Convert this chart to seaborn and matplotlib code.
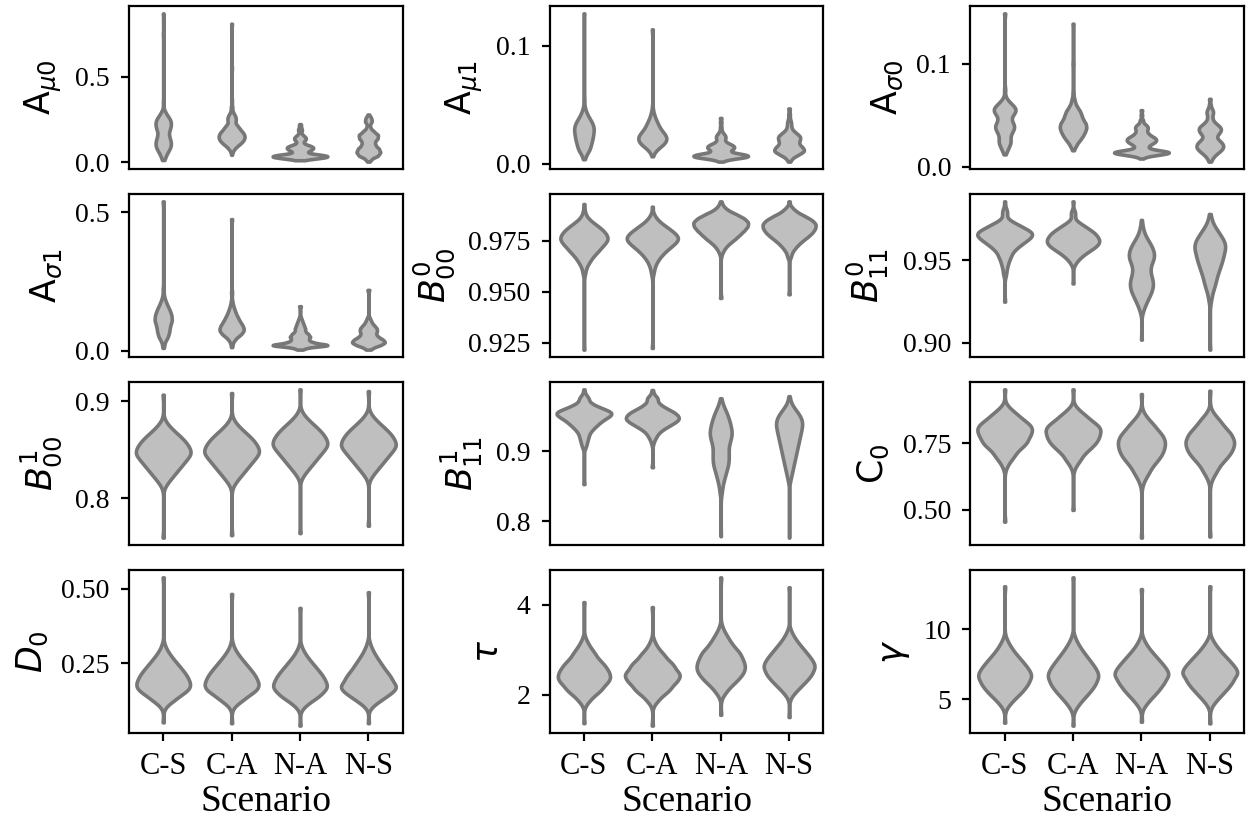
import matplotlib
matplotlib.use("Agg")
import matplotlib.pyplot as plt
import numpy as np
import pandas as pd
import seaborn as sns

scenarios = ["C-S", "C-A", "N-A", "N-S"]

# Posterior draws for each parameter and scenario, summarised as (value, number of draws)

# A_mu0
a_mu0_cs = [(0.014, 1), (0.02, 2), (0.04, 5), (0.06, 8), (0.08, 12), (0.10, 14), (0.12, 14), (0.14, 12),
            (0.16, 10), (0.18, 10), (0.20, 13), (0.22, 14), (0.24, 14), (0.26, 11), (0.28, 6), (0.30, 3),
            (0.35, 1), (0.75, 1), (0.87, 1)]
a_mu0_ca = [(0.045, 1), (0.07, 3), (0.09, 8), (0.11, 16), (0.13, 22), (0.15, 24), (0.17, 22), (0.19, 16),
            (0.21, 12), (0.23, 6), (0.25, 8), (0.27, 7), (0.29, 3), (0.32, 2), (0.36, 1), (0.55, 1),
            (0.81, 1)]
a_mu0_na = [(0.013, 1), (0.015, 3), (0.025, 20), (0.035, 32), (0.045, 22), (0.055, 6), (0.065, 8), (0.075, 12),
            (0.085, 14), (0.095, 12), (0.105, 6), (0.115, 3), (0.125, 4), (0.135, 6), (0.145, 6), (0.155, 4),
            (0.165, 2), (0.175, 1), (0.185, 2), (0.195, 2), (0.205, 1), (0.215, 1), (0.224, 1)]
a_mu0_ns = [(0.005, 1), (0.02, 4), (0.04, 14), (0.06, 17), (0.08, 15), (0.10, 10), (0.12, 9), (0.14, 13),
            (0.16, 14), (0.18, 8), (0.20, 3), (0.22, 2), (0.24, 5), (0.26, 4), (0.28, 1)]

# A_mu1
a_mu1_cs = [(0.004, 1), (0.008, 3), (0.012, 8), (0.016, 9), (0.020, 11), (0.024, 12), (0.028, 13), (0.032, 13),
            (0.036, 10), (0.040, 6), (0.044, 3), (0.048, 1), (0.055, 1), (0.1275, 1)]
a_mu1_ca = [(0.0065, 1), (0.010, 3), (0.013, 7), (0.016, 13), (0.019, 17), (0.022, 18), (0.025, 16), (0.028, 12),
            (0.031, 9), (0.034, 7), (0.037, 5), (0.040, 3), (0.043, 2), (0.047, 1), (0.114, 1)]
a_mu1_na = [(0.002, 1), (0.004, 6), (0.006, 26), (0.008, 22), (0.010, 6), (0.012, 9), (0.014, 12), (0.016, 10),
            (0.018, 5), (0.020, 3), (0.022, 4), (0.024, 4), (0.026, 2), (0.028, 1), (0.031, 1), (0.035, 1),
            (0.039, 1)]
a_mu1_ns = [(0.002, 1), (0.005, 3), (0.008, 9), (0.011, 15), (0.014, 13), (0.017, 9), (0.020, 10), (0.023, 11),
            (0.026, 7), (0.029, 3), (0.032, 2), (0.035, 2), (0.038, 1), (0.042, 1), (0.047, 1)]

# A_sigma0
a_sig0_cs = [(0.012, 1), (0.016, 3), (0.020, 5), (0.024, 7), (0.028, 6), (0.032, 7), (0.036, 10), (0.040, 11),
             (0.044, 8), (0.048, 7), (0.052, 11), (0.056, 13), (0.060, 9), (0.064, 4), (0.068, 1), (0.075, 1),
             (0.149, 1)]
a_sig0_ca = [(0.016, 1), (0.019, 2), (0.022, 5), (0.026, 10), (0.030, 14), (0.034, 17), (0.038, 19), (0.042, 18),
             (0.046, 14), (0.050, 12), (0.054, 10), (0.058, 6), (0.062, 3), (0.066, 2), (0.072, 1), (0.100, 1),
             (0.139, 1)]
a_sig0_na = [(0.008, 1), (0.010, 3), (0.012, 15), (0.014, 25), (0.016, 12), (0.018, 4), (0.020, 5), (0.022, 7),
             (0.024, 10), (0.026, 11), (0.028, 10), (0.030, 7), (0.032, 5), (0.034, 4), (0.036, 4), (0.038, 5),
             (0.040, 4), (0.042, 2), (0.045, 2), (0.050, 1), (0.055, 1)]
a_sig0_ns = [(0.005, 1), (0.008, 2), (0.011, 4), (0.014, 7), (0.017, 10), (0.020, 11), (0.023, 10), (0.026, 7),
             (0.029, 5), (0.032, 7), (0.035, 9), (0.038, 9), (0.041, 6), (0.044, 3), (0.047, 2), (0.050, 2),
             (0.053, 3), (0.056, 2), (0.060, 1), (0.066, 1)]

# A_sigma1
a_sig1_cs = [(0.010, 1), (0.030, 2), (0.050, 7), (0.070, 9), (0.090, 10), (0.110, 13), (0.130, 12), (0.150, 9),
             (0.170, 5), (0.190, 2), (0.220, 1), (0.540, 1)]
a_sig1_ca = [(0.013, 1), (0.030, 2), (0.045, 6), (0.060, 14), (0.075, 18), (0.090, 16), (0.105, 12), (0.120, 9),
             (0.135, 6), (0.150, 4), (0.165, 2), (0.180, 1), (0.210, 1), (0.476, 1)]
a_sig1_na = [(0.004, 1), (0.010, 5), (0.020, 30), (0.030, 12), (0.040, 8), (0.050, 10), (0.060, 8), (0.070, 5),
             (0.080, 5), (0.090, 4), (0.100, 3), (0.110, 2), (0.120, 1), (0.161, 1)]
a_sig1_ns = [(0.004, 1), (0.010, 3), (0.020, 10), (0.030, 14), (0.040, 12), (0.050, 8), (0.060, 6), (0.070, 7),
             (0.080, 7), (0.090, 5), (0.100, 3), (0.110, 2), (0.120, 1), (0.220, 1)]

# B^0_00
b00_0_cs = [(0.9217, 1), (0.958, 1), (0.960, 2), (0.962, 3), (0.964, 6), (0.966, 9), (0.968, 13), (0.970, 18),
            (0.972, 22), (0.974, 27), (0.976, 30), (0.978, 28), (0.980, 24), (0.982, 18), (0.984, 11), (0.986, 5),
            (0.988, 2), (0.990, 1), (0.993, 1)]
b00_0_ca = [(0.9225, 1), (0.958, 1), (0.960, 2), (0.962, 3), (0.964, 5), (0.966, 8), (0.968, 12), (0.970, 17),
            (0.972, 23), (0.974, 29), (0.976, 33), (0.978, 30), (0.980, 24), (0.982, 17), (0.984, 10), (0.986, 5),
            (0.988, 2), (0.9917, 1)]
b00_0_na = [(0.947, 1), (0.968, 1), (0.970, 3), (0.972, 6), (0.974, 11), (0.976, 17), (0.978, 22), (0.980, 27),
            (0.982, 31), (0.984, 32), (0.986, 27), (0.988, 18), (0.990, 8), (0.992, 3), (0.9943, 1)]
b00_0_ns = [(0.9488, 1), (0.967, 2), (0.969, 3), (0.971, 6), (0.973, 10), (0.975, 15), (0.977, 21), (0.979, 26),
            (0.981, 29), (0.983, 30), (0.985, 26), (0.987, 18), (0.989, 9), (0.991, 4), (0.9943, 1)]

# B^0_11
b11_0_cs = [(0.925, 1), (0.940, 1), (0.942, 2), (0.944, 2), (0.946, 3), (0.948, 4), (0.950, 5), (0.952, 7),
            (0.954, 8), (0.956, 11), (0.958, 15), (0.960, 20), (0.962, 25), (0.964, 30), (0.966, 32), (0.968, 28),
            (0.970, 20), (0.972, 14), (0.974, 6), (0.976, 2), (0.978, 3), (0.980, 3), (0.982, 1), (0.9856, 1)]
b11_0_ca = [(0.936, 1), (0.946, 1), (0.948, 3), (0.950, 6), (0.952, 10), (0.954, 15), (0.956, 21), (0.958, 27),
            (0.960, 31), (0.962, 32), (0.964, 30), (0.966, 27), (0.968, 22), (0.970, 16), (0.972, 10), (0.974, 4),
            (0.976, 2), (0.978, 3), (0.980, 2), (0.9856, 1)]
b11_0_na = [(0.902, 1), (0.919, 2), (0.922, 4), (0.925, 7), (0.928, 10), (0.931, 13), (0.934, 15), (0.937, 15),
            (0.940, 13), (0.943, 11), (0.946, 11), (0.949, 14), (0.952, 17), (0.955, 16), (0.958, 14), (0.961, 10),
            (0.964, 6), (0.967, 3), (0.970, 2), (0.9744, 1)]
b11_0_ns = [(0.896, 1), (0.924, 1), (0.927, 2), (0.930, 3), (0.933, 5), (0.936, 7), (0.939, 8), (0.942, 10),
            (0.945, 12), (0.948, 14), (0.951, 16), (0.954, 17), (0.957, 19), (0.960, 19), (0.963, 16), (0.966, 12),
            (0.969, 8), (0.972, 4), (0.975, 2), (0.978, 1)]

# B^1_00
b00_1_cs = [(0.759, 1), (0.810, 1), (0.816, 5), (0.822, 10), (0.828, 15), (0.834, 20), (0.840, 25), (0.846, 30),
            (0.852, 28), (0.858, 24), (0.864, 18), (0.870, 11), (0.876, 5), (0.882, 1), (0.907, 1)]
b00_1_ca = [(0.7616, 1), (0.811, 1), (0.817, 5), (0.823, 10), (0.829, 15), (0.835, 20), (0.841, 25), (0.847, 30),
            (0.853, 28), (0.859, 24), (0.865, 18), (0.871, 11), (0.877, 5), (0.883, 1), (0.9087, 1)]
b00_1_na = [(0.7637, 1), (0.819, 1), (0.825, 5), (0.831, 10), (0.837, 15), (0.843, 20), (0.849, 25), (0.855, 30),
            (0.861, 28), (0.867, 24), (0.873, 18), (0.879, 11), (0.885, 5), (0.891, 1), (0.9125, 1)]
b00_1_ns = [(0.7713, 1), (0.818, 1), (0.824, 5), (0.830, 10), (0.836, 15), (0.842, 20), (0.848, 25), (0.854, 30),
            (0.860, 28), (0.866, 24), (0.872, 18), (0.878, 11), (0.884, 5), (0.890, 1), (0.9107, 1)]

# B^1_11
b11_1_cs = [(0.853, 1), (0.905, 2), (0.910, 3), (0.915, 4), (0.920, 5), (0.925, 6), (0.930, 9), (0.935, 13),
            (0.940, 17), (0.945, 22), (0.950, 29), (0.955, 32), (0.960, 21), (0.965, 12), (0.970, 5), (0.975, 6),
            (0.980, 2), (0.9876, 1)]
b11_1_ca = [(0.877, 1), (0.910, 1), (0.915, 2), (0.920, 4), (0.925, 6), (0.930, 10), (0.935, 16), (0.940, 22),
            (0.945, 27), (0.950, 26), (0.955, 22), (0.960, 15), (0.965, 9), (0.970, 5), (0.975, 6), (0.980, 2),
            (0.9867, 1)]
b11_1_na = [(0.779, 1), (0.838, 2), (0.844, 3), (0.850, 4), (0.856, 6), (0.862, 9), (0.868, 11), (0.874, 14),
            (0.880, 17), (0.886, 18), (0.892, 18), (0.898, 18), (0.904, 17), (0.910, 19), (0.916, 22), (0.922, 25),
            (0.928, 25), (0.934, 23), (0.940, 21), (0.946, 18), (0.952, 15), (0.958, 11), (0.964, 6), (0.970, 3),
            (0.975, 1)]
b11_1_ns = [(0.777, 1), (0.856, 2), (0.862, 4), (0.868, 6), (0.874, 8), (0.880, 10), (0.886, 12), (0.892, 14),
            (0.898, 16), (0.904, 18), (0.910, 20), (0.916, 22), (0.922, 24), (0.928, 26), (0.934, 28), (0.940, 29),
            (0.946, 27), (0.952, 22), (0.958, 15), (0.964, 8), (0.970, 3), (0.975, 1), (0.978, 1)]

# C_0
c0_cs = [(0.456, 1), (0.650, 1), (0.671, 4), (0.693, 9), (0.714, 13), (0.736, 20), (0.757, 26), (0.779, 29),
         (0.800, 30), (0.820, 27), (0.840, 19), (0.860, 13), (0.880, 6), (0.900, 1), (0.9525, 1)]
c0_ca = [(0.50, 1), (0.648, 1), (0.669, 4), (0.690, 9), (0.712, 13), (0.733, 20), (0.754, 26), (0.775, 29),
         (0.796, 30), (0.816, 27), (0.836, 19), (0.856, 13), (0.876, 6), (0.896, 1), (0.9525, 1)]
c0_na = [(0.396, 1), (0.588, 1), (0.612, 4), (0.636, 9), (0.660, 13), (0.684, 20), (0.708, 26), (0.732, 29),
         (0.756, 30), (0.780, 27), (0.804, 19), (0.827, 13), (0.851, 6), (0.875, 1), (0.935, 1)]
c0_ns = [(0.40, 1), (0.600, 1), (0.623, 4), (0.646, 9), (0.670, 13), (0.693, 20), (0.716, 26), (0.739, 29),
         (0.762, 30), (0.786, 27), (0.810, 19), (0.834, 13), (0.857, 6), (0.881, 1), (0.9475, 1)]

# D_0
d0_cs = [(0.050, 1), (0.100, 2), (0.117, 8), (0.133, 15), (0.150, 22), (0.166, 28), (0.183, 30), (0.201, 28),
         (0.219, 24), (0.237, 19), (0.255, 14), (0.273, 9), (0.291, 5), (0.311, 2), (0.539, 1)]
d0_ca = [(0.047, 1), (0.100, 2), (0.117, 8), (0.133, 15), (0.150, 22), (0.166, 28), (0.183, 30), (0.201, 28),
         (0.219, 24), (0.237, 19), (0.255, 14), (0.273, 9), (0.291, 5), (0.311, 2), (0.483, 1)]
d0_na = [(0.039, 1), (0.094, 2), (0.111, 8), (0.128, 15), (0.144, 22), (0.161, 28), (0.178, 30), (0.196, 28),
         (0.214, 24), (0.232, 19), (0.250, 14), (0.268, 9), (0.286, 5), (0.305, 2), (0.436, 1)]
d0_ns = [(0.047, 1), (0.098, 2), (0.114, 8), (0.130, 15), (0.146, 22), (0.162, 28), (0.178, 30), (0.197, 28),
         (0.216, 24), (0.236, 19), (0.256, 14), (0.276, 9), (0.296, 5), (0.317, 2), (0.489, 1)]

# tau
tau_cs = [(1.375, 1), (1.78, 2), (1.90, 8), (2.03, 15), (2.15, 22), (2.28, 28), (2.40, 30), (2.52, 28), (2.64, 24),
          (2.76, 19), (2.89, 14), (3.01, 9), (3.13, 5), (3.25, 2), (4.06, 1)]
tau_ca = [(1.32, 1), (1.78, 2), (1.90, 8), (2.03, 15), (2.15, 22), (2.28, 28), (2.40, 30), (2.51, 28), (2.63, 24),
          (2.74, 19), (2.86, 14), (2.97, 9), (3.09, 5), (3.21, 2), (3.95, 1)]
tau_na = [(1.56, 1), (1.96, 2), (2.09, 8), (2.23, 15), (2.36, 22), (2.49, 28), (2.62, 30), (2.75, 28), (2.88, 24),
          (3.00, 19), (3.13, 14), (3.26, 9), (3.38, 5), (3.51, 2), (4.61, 1)]
tau_ns = [(1.51, 1), (1.94, 2), (2.07, 8), (2.20, 15), (2.33, 22), (2.46, 28), (2.59, 30), (2.71, 28), (2.83, 24),
          (2.95, 19), (3.07, 14), (3.19, 9), (3.31, 5), (3.43, 2), (4.39, 1)]

# gamma
gam_cs = [(3.31, 1), (4.33, 2), (4.77, 8), (5.21, 15), (5.64, 22), (6.08, 28), (6.52, 30), (6.92, 28), (7.32, 24),
          (7.72, 19), (8.12, 14), (8.53, 9), (8.93, 5), (9.33, 2), (13.1, 1)]
gam_ca = [(3.10, 1), (4.21, 2), (4.67, 8), (5.14, 15), (5.60, 22), (6.06, 28), (6.52, 30), (6.94, 28), (7.36, 24),
          (7.78, 19), (8.20, 14), (8.62, 9), (9.03, 5), (9.45, 2), (13.74, 1)]
gam_na = [(3.38, 1), (4.33, 2), (4.78, 8), (5.24, 15), (5.69, 22), (6.15, 28), (6.60, 30), (6.99, 28), (7.38, 24),
          (7.77, 19), (8.16, 14), (8.55, 9), (8.94, 5), (9.33, 2), (12.9, 1)]
gam_ns = [(3.26, 1), (4.45, 2), (4.90, 8), (5.35, 15), (5.80, 22), (6.25, 28), (6.70, 30), (7.08, 28), (7.46, 24),
          (7.84, 19), (8.22, 14), (8.60, 9), (8.97, 5), (9.33, 2), (13.1, 1)]

param_labels = [r"A$_{\mu0}$", r"A$_{\mu1}$", r"A$_{\sigma0}$",
                r"A$_{\sigma1}$", r"$B^0_{00}$", r"$B^0_{11}$",
                r"$B^1_{00}$", r"$B^1_{11}$", r"C$_0$",
                r"$D_0$", r"$\tau$", r"$\gamma$"]

param_draws = [
    [a_mu0_cs, a_mu0_ca, a_mu0_na, a_mu0_ns],
    [a_mu1_cs, a_mu1_ca, a_mu1_na, a_mu1_ns],
    [a_sig0_cs, a_sig0_ca, a_sig0_na, a_sig0_ns],
    [a_sig1_cs, a_sig1_ca, a_sig1_na, a_sig1_ns],
    [b00_0_cs, b00_0_ca, b00_0_na, b00_0_ns],
    [b11_0_cs, b11_0_ca, b11_0_na, b11_0_ns],
    [b00_1_cs, b00_1_ca, b00_1_na, b00_1_ns],
    [b11_1_cs, b11_1_ca, b11_1_na, b11_1_ns],
    [c0_cs, c0_ca, c0_na, c0_ns],
    [d0_cs, d0_ca, d0_na, d0_ns],
    [tau_cs, tau_ca, tau_na, tau_ns],
    [gam_cs, gam_ca, gam_na, gam_ns],
]

param_yticks = [[0.0, 0.5], [0.0, 0.1], [0.0, 0.1],
                [0.0, 0.5], [0.925, 0.950, 0.975], [0.90, 0.95],
                [0.8, 0.9], [0.8, 0.9], [0.50, 0.75],
                [0.25, 0.50], [2, 4], [5, 10]]

# kernel bandwidth multiplier for each panel
bw_scale = [0.4, 0.5, 0.4, 0.4, 0.6, 0.6, 0.7, 0.6, 0.7, 0.7, 0.7, 0.7]


def expand(pairs):
    values = [v for v, _ in pairs]
    counts = [c for _, c in pairs]
    return np.repeat(values, counts)


plt.rcParams["font.family"] = ["Liberation Serif"]
plt.rcParams["mathtext.fontset"] = "dejavusans"

fig, axes = plt.subplots(4, 3, figsize=(6.245, 4.09), dpi=200)
fig.subplots_adjust(left=0.1033, right=0.996, top=0.9927, bottom=0.1039,
                    wspace=0.538, hspace=0.153)

for i, ax in enumerate(axes.flat):
    frames = [pd.DataFrame({"Scenario": scen, "value": expand(pairs)})
              for scen, pairs in zip(scenarios, param_draws[i])]
    df = pd.concat(frames, ignore_index=True)
    sns.violinplot(data=df, x="Scenario", y="value", order=scenarios,
                   color="#bfbfbf", linecolor="#777777", linewidth=1.3,
                   saturation=1, inner=None, cut=0, bw_adjust=bw_scale[i], ax=ax)
    ax.set_yticks(param_yticks[i])
    ax.set_ylabel(param_labels[i], fontsize=12.5, fontfamily="DejaVu Sans")
    ax.tick_params(axis="both", length=2.8, pad=4.2, width=0.8)
    ax.tick_params(axis="y", labelsize=10)
    ax.tick_params(axis="x", labelsize=11)
    for s in ax.spines.values():
        s.set_linewidth(0.8)
    if i < 9:
        ax.set_xlabel("")
        ax.tick_params(axis="x", bottom=False, labelbottom=False)
    else:
        ax.set_xlabel("Scenario", fontsize=13.5, labelpad=1.0)

fig.savefig("out.png", dpi=200)
